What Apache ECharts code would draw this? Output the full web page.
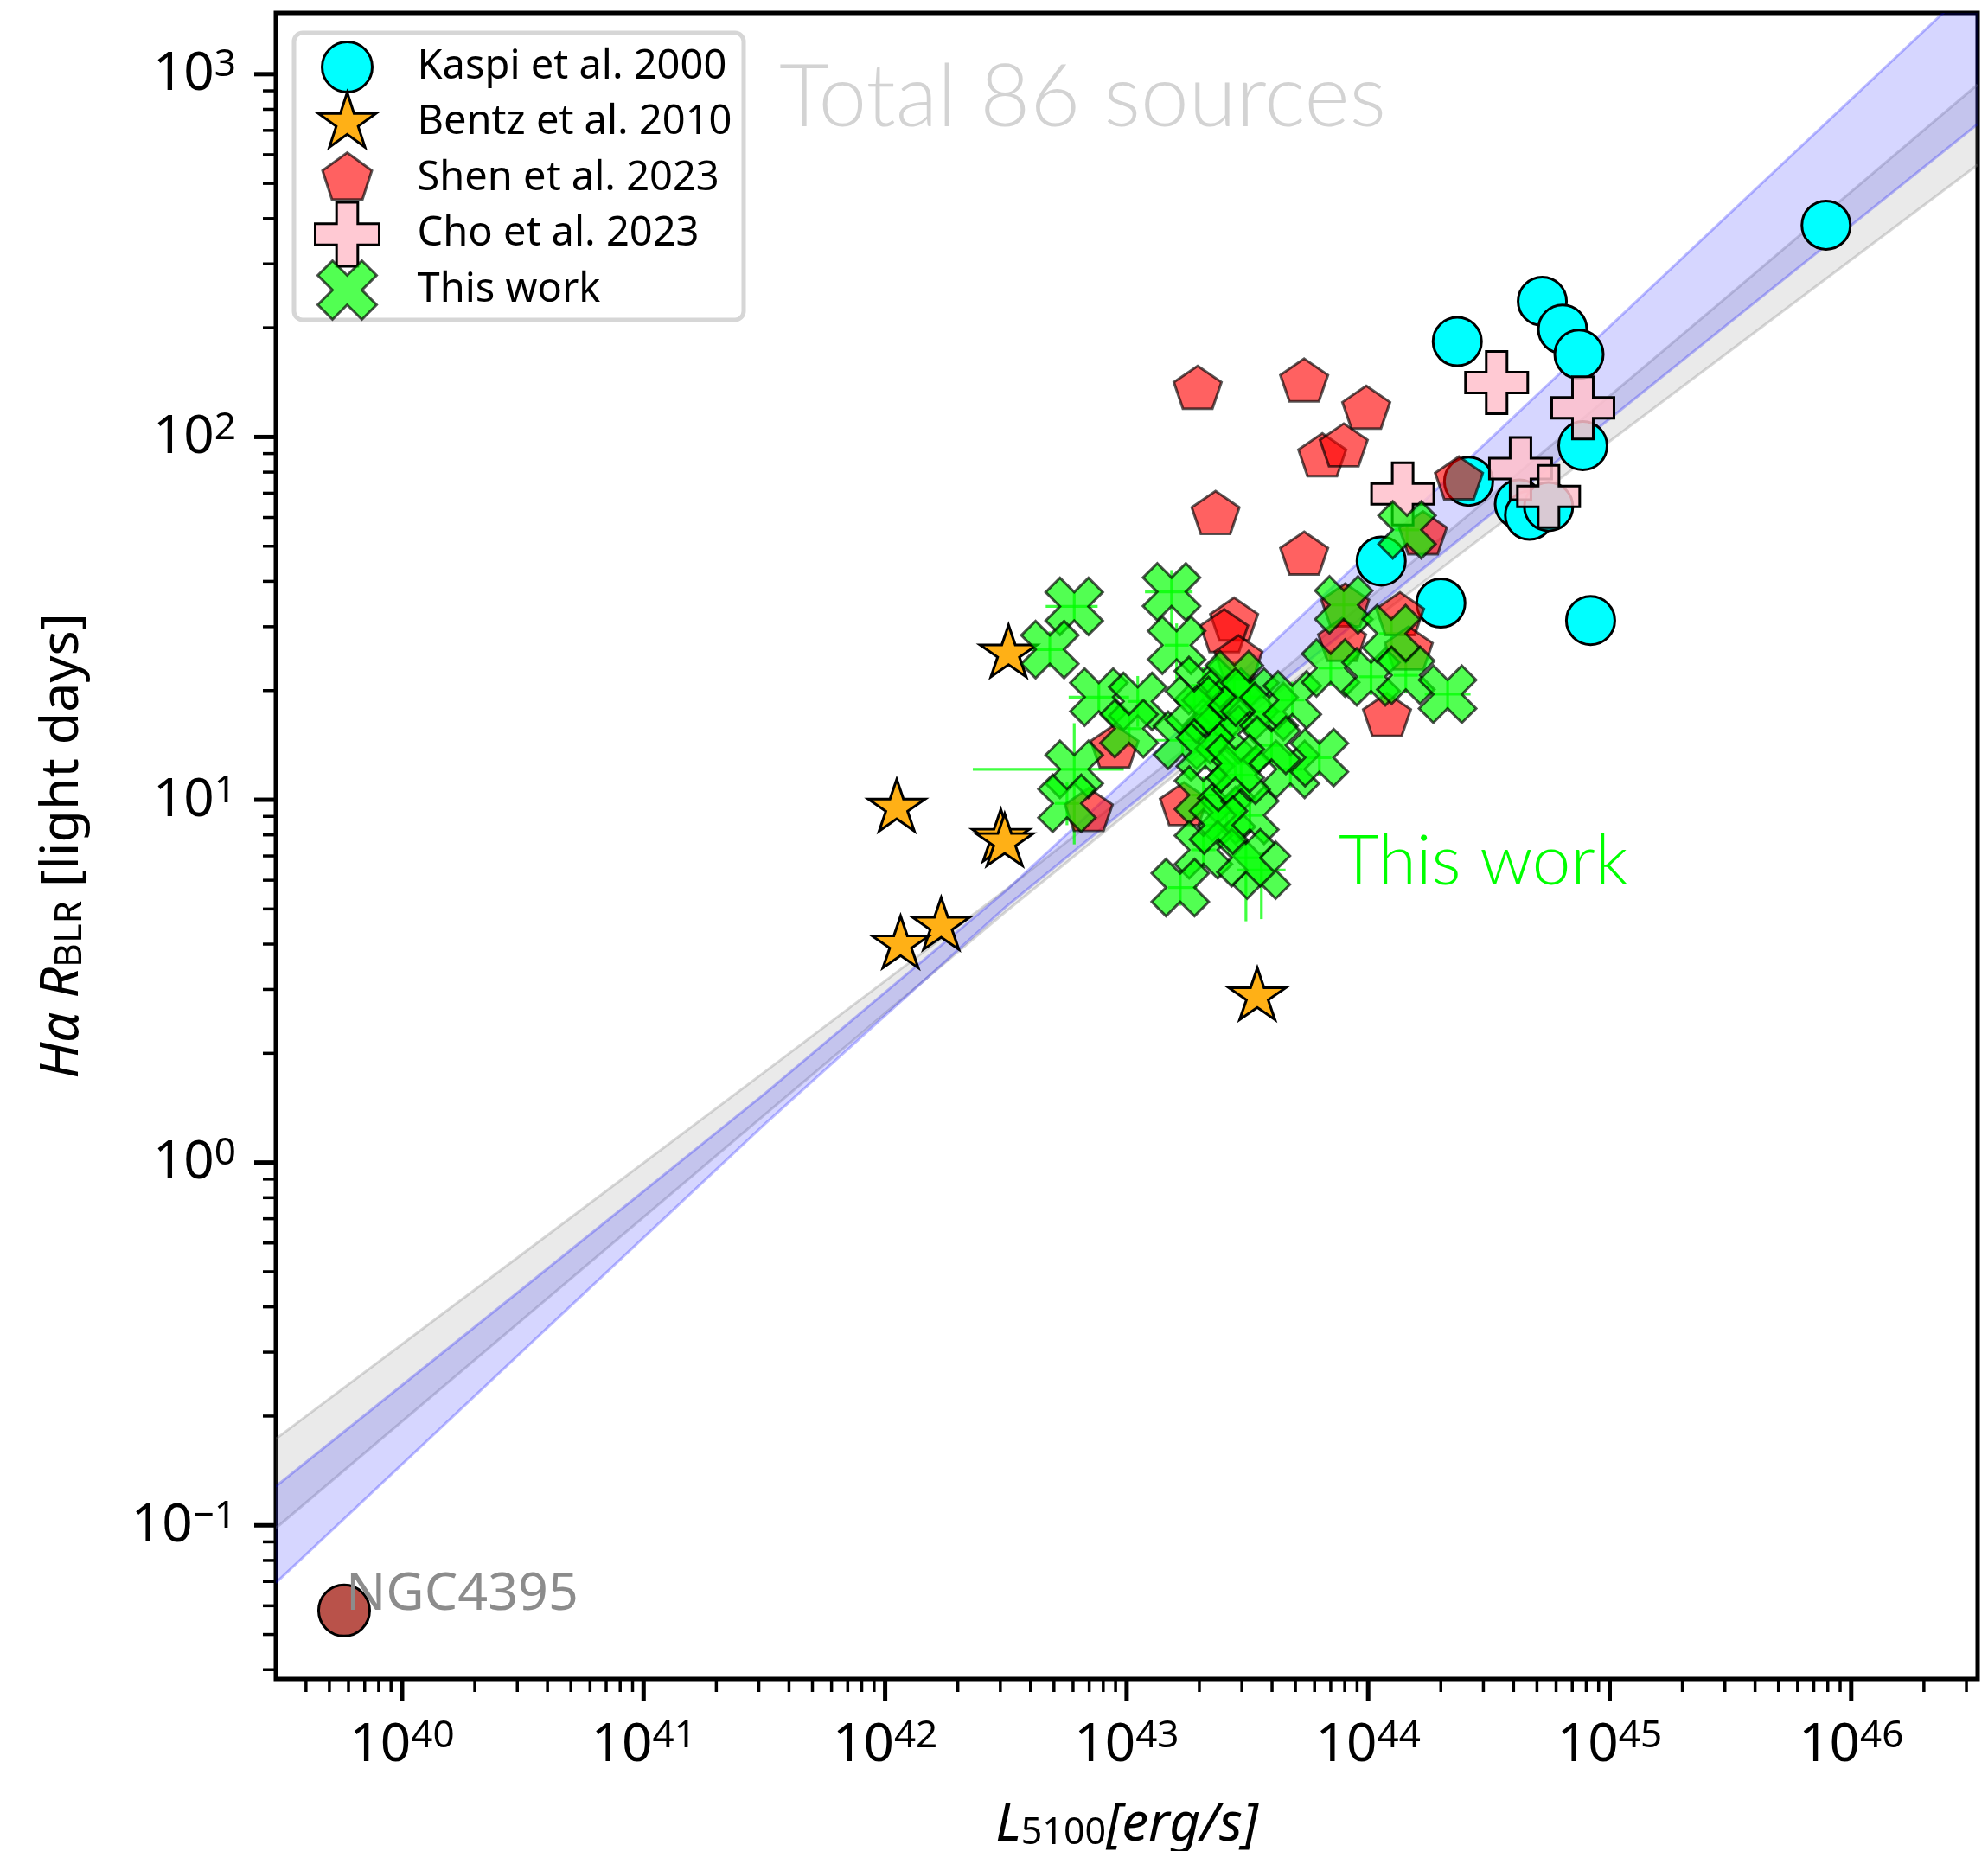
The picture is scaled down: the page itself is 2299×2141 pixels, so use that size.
<!DOCTYPE html>
<html>
<head>
<meta charset="utf-8">
<script src="https://cdn.jsdelivr.net/npm/echarts/dist/echarts.min.js"></script>
<style>
html,body{margin:0;padding:0;background:#ffffff;}
#chart{width:2299px;height:2141px;}
</style>
</head>
<body>
<div id="chart"></div>
<script>
// ===== data: log10(L5100 [erg/s]) and log10(R_BLR [light days]) =====
const kaspiLogL = [45.896, 44.721, 44.805, 44.873, 44.369, 44.889, 44.416, 44.626, 44.668, 44.747, 44.054, 44.301, 44.921];
const kaspiLogR = [2.584, 2.374, 2.297, 2.228, 2.263, 1.976, 1.878, 1.815, 1.784, 1.808, 1.658, 1.542, 1.494];

const bentzLogL = [42.511, 42.048, 42.479, 42.495, 42.232, 42.064, 43.541];
const bentzLogR = [1.410, 0.985, 0.902, 0.890, 0.659, 0.608, 0.465];

const shenLogL = [43.294, 43.735, 43.992, 43.810, 43.899, 43.368, 43.735, 44.376, 44.227, 43.445,
                  43.404, 43.463, 44.132, 43.905, 43.892, 44.078, 42.950, 42.843, 43.237, 44.168];
const shenLogR = [2.137, 2.157, 2.082, 1.951, 1.978, 1.792, 1.680, 1.887, 1.736, 1.498,
                  1.466, 1.394, 1.513, 1.537, 1.442, 1.235, 1.148, 0.973, 0.989, 1.418];

const choLogL = [44.532, 44.889, 44.143, 44.631, 44.747];
const choLogR = [2.150, 2.080, 1.843, 1.913, 1.836];

const thisLogL = [42.783, 42.682, 43.186, 43.207, 42.885, 43.046, 43.010, 43.231, 42.783, 42.753,
                  43.317, 43.414, 43.446, 43.350, 43.404, 43.326, 43.318, 43.414, 43.510, 43.318,
                  43.222, 43.558, 43.494, 43.510, 43.590, 43.686, 43.678, 43.798, 43.845, 43.899,
                  44.012, 44.096, 44.156, 44.329, 44.161, 43.474, 43.600, 43.450, 43.380, 43.280];
const thisLogR = [1.533, 1.414, 1.573, 1.426, 1.283, 1.271, 1.196, 1.164, 1.084, 0.990,
                  1.315, 1.283, 1.331, 1.235, 1.180, 1.132, 1.013, 0.965, 0.957, 0.862,
                  0.758, 0.806, 0.840, 1.283, 1.243, 1.275, 1.084, 1.116, 1.363, 1.537,
                  1.339, 1.458, 1.343, 1.291, 1.744, 1.068, 1.150, 1.100, 0.930, 1.260];
// error bars in dex: [left, right, down, up]
const thisErrXlo = [0.118, 0.08, 0.11, 0.05, 0.125, 0.04, 0.05, 0.113, 0.42, 0.05,
                    0.05, 0.05, 0.05, 0.05, 0.05, 0.05, 0.05, 0.05, 0.05, 0.05,
                    0.05, 0.10, 0.05, 0.05, 0.05, 0.05, 0.05, 0.05, 0.05, 0.05,
                    0.05, 0.05, 0.05, 0.095, 0.05, 0.05, 0.05, 0.05, 0.05, 0.05];
const thisErrXhi = [0.097, 0.06, 0.087, 0.05, 0.125, 0.04, 0.05, 0.125, 0.205, 0.05,
                    0.05, 0.05, 0.05, 0.05, 0.05, 0.05, 0.05, 0.05, 0.05, 0.05,
                    0.07, 0.10, 0.05, 0.05, 0.05, 0.05, 0.05, 0.05, 0.05, 0.05,
                    0.05, 0.05, 0.05, 0.095, 0.05, 0.05, 0.05, 0.05, 0.05, 0.05];
const thisErrYlo = [0.04, 0.05, 0.10, 0.10, 0.04, 0.07, 0.05, 0.04, 0.207, 0.06,
                    0.05, 0.05, 0.05, 0.05, 0.05, 0.05, 0.05, 0.05, 0.05, 0.05,
                    0.05, 0.135, 0.175, 0.05, 0.05, 0.05, 0.05, 0.05, 0.05, 0.05,
                    0.05, 0.05, 0.05, 0.04, 0.05, 0.05, 0.05, 0.05, 0.05, 0.05];
const thisErrYhi = [0.04, 0.05, 0.06, 0.06, 0.04, 0.07, 0.05, 0.04, 0.127, 0.06,
                    0.05, 0.05, 0.05, 0.05, 0.05, 0.05, 0.05, 0.05, 0.05, 0.05,
                    0.05, 0.05, 0.05, 0.05, 0.05, 0.05, 0.05, 0.05, 0.05, 0.05,
                    0.05, 0.05, 0.05, 0.04, 0.05, 0.05, 0.05, 0.05, 0.05, 0.05];

const ngcLogL = [39.760];
const ngcLogR = [-1.235];

// confidence bands (log10 values at sampled log L)
const bandLogL   = [39.477, 40.5, 41.5, 42.5, 43.5, 44.5, 45.5, 46.523];
const greyUpper  = [-0.762, -0.251, 0.249, 0.752, 1.275, 1.832, 2.394, 2.971];
const greyLower  = [-1.008, -0.432, 0.131, 0.692, 1.231, 1.738, 2.238, 2.750];
const blueUpper  = [-0.893, -0.347, 0.189, 0.749, 1.366, 1.991, 2.618, 3.258];
const blueLower  = [-1.159, -0.519, 0.105, 0.705, 1.248, 1.783, 2.317, 2.862];

// axes
const xLogMin = 39.4773, xLogMax = 46.5235;
const yLogMin = -1.4236, yLogMax = 3.1688;

const legendNames = ['Kaspi et al. 2000', 'Bentz et al. 2010', 'Shen et al. 2023', 'Cho et al. 2023', 'This work'];

// ===== helpers =====
const pw = v => Math.pow(10, v);
const pts = (lx, ly) => lx.map((x, i) => [pw(x), pw(ly[i])]);

const SYM = {
  star: 'path://M951 0L1176 691L1902 691L1314 1118L1539 1809L951 1382L363 1809L588 1118L0 691L726 691Z',
  pent: 'path://M951 0L1902 691L1539 1809L363 1809L0 691Z',
  plus: 'path://M1 0L2 0L2 1L3 1L3 2L2 2L2 3L1 3L1 2L0 2L0 1L1 1Z',
  cross: 'path://M3 0L4 1L3 2L4 3L3 4L2 3L1 4L0 3L1 2L0 1L1 0L2 1Z'
};
const LEG = {
  circle: 'path://M0 0M114 76M9 38A29 29 0 1 1 67 38A29 29 0 1 1 9 38Z',
  star: 'path://M0 0M114 76M38 3L45.9 27.2L71.3 27.2L50.7 42.1L58.6 66.3L38 51.4L17.4 66.3L25.3 42.1L4.7 27.2L30.1 27.2Z',
  pent: 'path://M0 0M114 76M38 8L66.5 28.7L55.6 62.3L20.4 62.3L9.5 28.7Z',
  plus: 'path://M0 0M114 76M25.7 1L50.3 1L50.3 25.7L75 25.7L75 50.3L50.3 50.3L50.3 75L25.7 75L25.7 50.3L1 50.3L1 25.7L25.7 25.7Z',
  cross: 'path://M0 0M114 76M55 4L72 21L55 38L72 55L55 72L38 55L21 72L4 55L21 38L4 21L21 4L38 21Z'
};

function bandSeries(upper, lower, fill, edge) {
  return {
    type: 'custom', coordinateSystem: 'cartesian2d', clip: true, silent: true, z: 1,
    data: [[pw(43), 1]],
    renderItem: function (params, api) {
      const up = bandLogL.map((lx, i) => api.coord([pw(lx), pw(upper[i])]));
      const lo = bandLogL.map((lx, i) => api.coord([pw(lx), pw(lower[i])]));
      return {
        type: 'group', children: [
          { type: 'polygon', shape: { points: up.concat(lo.slice().reverse()) }, style: { fill: fill, stroke: null } },
          { type: 'polyline', shape: { points: up }, style: { stroke: edge, lineWidth: 3, fill: null } },
          { type: 'polyline', shape: { points: lo }, style: { stroke: edge, lineWidth: 3, fill: null } }
        ]
      };
    }
  };
}

const tickSeries = {
  type: 'custom', coordinateSystem: 'cartesian2d', clip: false, silent: true, z: 10,
  data: [[pw(43), 1]],
  renderItem: function (params, api) {
    const cs = params.coordSys;
    const left = cs.x, bottom = cs.y + cs.height;
    const ch = [];
    for (let e = Math.floor(xLogMin); e <= Math.ceil(xLogMax); e++) {
      for (let k = 1; k <= 9; k++) {
        const lv = e + Math.log10(k);
        if (lv < xLogMin - 1e-4 || lv > xLogMax + 1e-4) continue;
        const px = api.coord([pw(lv), 1])[0];
        const major = k === 1;
        ch.push({ type: 'line', shape: { x1: px, y1: bottom, x2: px, y2: bottom + (major ? 25 : 15) },
                  style: { stroke: '#000', lineWidth: major ? 5 : 3.5 } });
      }
    }
    for (let e = Math.floor(yLogMin); e <= Math.ceil(yLogMax); e++) {
      for (let k = 1; k <= 9; k++) {
        const lv = e + Math.log10(k);
        if (lv < yLogMin - 1e-4 || lv > yLogMax + 1e-4) continue;
        const py = api.coord([pw(43), pw(lv)])[1];
        const major = k === 1;
        ch.push({ type: 'line', shape: { x1: left - (major ? 25 : 15), y1: py, x2: left, y2: py },
                  style: { stroke: '#000', lineWidth: major ? 5 : 3.5 } });
      }
    }
    return { type: 'group', children: ch };
  }
};

const errSeries = {
  type: 'custom', coordinateSystem: 'cartesian2d', clip: true, silent: true, z: 2,
  data: thisLogL.map((x, i) => [x, thisLogR[i], thisErrXlo[i], thisErrXhi[i], thisErrYlo[i], thisErrYhi[i]]),
  encode: { x: 0, y: 1 },
  renderItem: function (params, api) {
    const lx = api.value(0), ly = api.value(1);
    const a = api.coord([pw(lx - api.value(2)), pw(ly)]);
    const b = api.coord([pw(lx + api.value(3)), pw(ly)]);
    const c = api.coord([pw(lx), pw(ly - api.value(4))]);
    const d = api.coord([pw(lx), pw(ly + api.value(5))]);
    const st = { stroke: 'rgba(0,255,0,0.75)', lineWidth: 3.2 };
    return { type: 'group', children: [
      { type: 'line', shape: { x1: a[0], y1: a[1], x2: b[0], y2: b[1] }, style: st },
      { type: 'line', shape: { x1: c[0], y1: c[1], x2: d[0], y2: d[1] }, style: st }
    ] };
  }
};

function fmtPow(v) {
  const e = Math.round(Math.log10(v));
  return '{b|10}{s|' + (e < 0 ? '\u2212' + (-e) : e) + '}';
}
const tickRich = {
  b: { fontFamily: 'Noto Sans', fontSize: 62, lineHeight: 64, verticalAlign: 'bottom', color: '#000' },
  s: { fontFamily: 'Noto Sans', fontSize: 44, lineHeight: 27, verticalAlign: 'top', color: '#000' }
};
const nameRich = {
  i: { fontFamily: 'Noto Sans', fontStyle: 'italic', fontSize: 62, lineHeight: 72, verticalAlign: 'bottom', color: '#000' },
  n: { fontFamily: 'Noto Sans', fontSize: 61, lineHeight: 72, verticalAlign: 'bottom', color: '#000' },
  sub: { fontFamily: 'Noto Sans', fontSize: 43, lineHeight: 45, verticalAlign: 'bottom', color: '#000' }
};

const option = {
  animation: false,
  backgroundColor: '#ffffff',
  textStyle: { fontFamily: 'Noto Sans' },
  grid: { left: 319, top: 15, right: 12, bottom: 199, show: true, borderColor: '#000', borderWidth: 5,
          backgroundColor: 'transparent', containLabel: false, outerBoundsMode: 'none' },
  xAxis: {
    type: 'log', logBase: 10, min: pw(xLogMin), max: pw(xLogMax),
    axisLine: { show: false }, axisTick: { show: false }, splitLine: { show: false }, minorTick: { show: false },
    axisLabel: { margin: 44, showMinLabel: false, showMaxLabel: false, formatter: fmtPow, rich: tickRich },
    name: '{i|L}{sub|5100}{i|[erg/s]}', nameLocation: 'middle', nameGap: 128,
    nameTextStyle: { fontFamily: 'Noto Sans', fontSize: 62, color: '#000', rich: nameRich }
  },
  yAxis: {
    type: 'log', logBase: 10, min: pw(yLogMin), max: pw(yLogMax),
    axisLine: { show: false }, axisTick: { show: false }, splitLine: { show: false }, minorTick: { show: false },
    axisLabel: { margin: 46, showMinLabel: false, showMaxLabel: false, formatter: fmtPow, rich: tickRich },
    name: '{i|H\u03b1 R}{sub|BLR}{n| [light days]}', nameLocation: 'middle', nameGap: 216,
    nameTextStyle: { fontFamily: 'Noto Sans', fontSize: 61, color: '#000', rich: nameRich }
  },
  legend: {
    orient: 'vertical', left: 362, top: 38, padding: 0, itemGap: -14.5,
    itemWidth: 114, itemHeight: 76, selectedMode: false, z: 4,
    itemStyle: { borderWidth: 3 },
    textStyle: { fontFamily: 'Noto Sans', fontSize: 47, color: '#000' },
    data: [
      { name: legendNames[0], icon: LEG.circle },
      { name: legendNames[1], icon: LEG.star },
      { name: legendNames[2], icon: LEG.pent },
      { name: legendNames[3], icon: LEG.plus },
      { name: legendNames[4], icon: LEG.cross }
    ]
  },
  graphic: [
    { type: 'rect', z: 3, shape: { x: 340, y: 38, width: 520, height: 332, r: 10 },
      style: { fill: 'rgba(255,255,255,0.85)', stroke: '#d6d6d6', lineWidth: 5 } },
    { type: 'text', z: 5, x: 901, y: 114,
      style: { text: 'Total 86 sources', fontFamily: 'Lato', fontWeight: 300, fontSize: 100, fill: '#d3d3d3', textVerticalAlign: 'middle', verticalAlign: 'middle' } },
    { type: 'text', z: 5, x: 1548, y: 997,
      style: { text: 'This work', fontFamily: 'Lato', fontWeight: 300, fontSize: 80, fill: '#00ff00', textVerticalAlign: 'middle', verticalAlign: 'middle' } }
  ],
  series: [
    bandSeries(greyUpper, greyLower, 'rgba(128,128,128,0.17)', 'rgba(128,128,128,0.3)'),
    bandSeries(blueUpper, blueLower, 'rgba(0,0,255,0.16)', 'rgba(0,0,255,0.25)'),
    { name: legendNames[0], type: 'scatter', data: pts(kaspiLogL, kaspiLogR), symbol: 'circle', symbolSize: 56,
      itemStyle: { color: '#00ffff', borderColor: '#000', borderWidth: 3, opacity: 1 }, emphasis: { disabled: true } },
    { name: legendNames[1], type: 'scatter', data: pts(bentzLogL, bentzLogR), symbol: SYM.star, symbolSize: [66, 63], symbolKeepAspect: true,
      itemStyle: { color: '#ffb016', borderColor: '#000', borderWidth: 3, opacity: 1 }, emphasis: { disabled: true } },
    { name: legendNames[2], type: 'scatter', data: pts(shenLogL, shenLogR), symbol: SYM.pent, symbolSize: [55, 52], symbolKeepAspect: true,
      itemStyle: { color: 'rgba(255,0,0,0.62)', borderColor: 'rgba(0,0,0,0.65)', borderWidth: 3, opacity: 1 }, emphasis: { disabled: true } },
    { name: legendNames[3], type: 'scatter', data: pts(choLogL, choLogR), symbol: SYM.plus, symbolSize: [72, 72], symbolKeepAspect: true,
      itemStyle: { color: 'rgba(255,192,203,0.85)', borderColor: '#000', borderWidth: 3, opacity: 1 }, emphasis: { disabled: true } },
    errSeries,
    { name: legendNames[4], type: 'scatter', data: pts(thisLogL, thisLogR), symbol: SYM.cross, symbolSize: [66, 66], symbolKeepAspect: true,
      itemStyle: { color: 'rgba(0,255,0,0.68)', borderColor: 'rgba(0,0,0,0.68)', borderWidth: 3, opacity: 1 }, emphasis: { disabled: true } },
    { name: 'NGC4395', type: 'scatter', data: pts(ngcLogL, ngcLogR), symbol: 'circle', symbolSize: 59,
      itemStyle: { color: '#b9524a', borderColor: '#000', borderWidth: 3, opacity: 1 }, emphasis: { disabled: true },
      label: { show: true, formatter: 'NGC4395', position: [33, 13], align: 'left', verticalAlign: 'middle',
               fontFamily: 'Noto Sans', fontSize: 61, color: '#8c8c8c' } },
    tickSeries
  ]
};

const chart = echarts.init(document.getElementById('chart'), null, { renderer: 'canvas', width: 2299, height: 2141 });
chart.setOption(option);
</script>
</body>
</html>
